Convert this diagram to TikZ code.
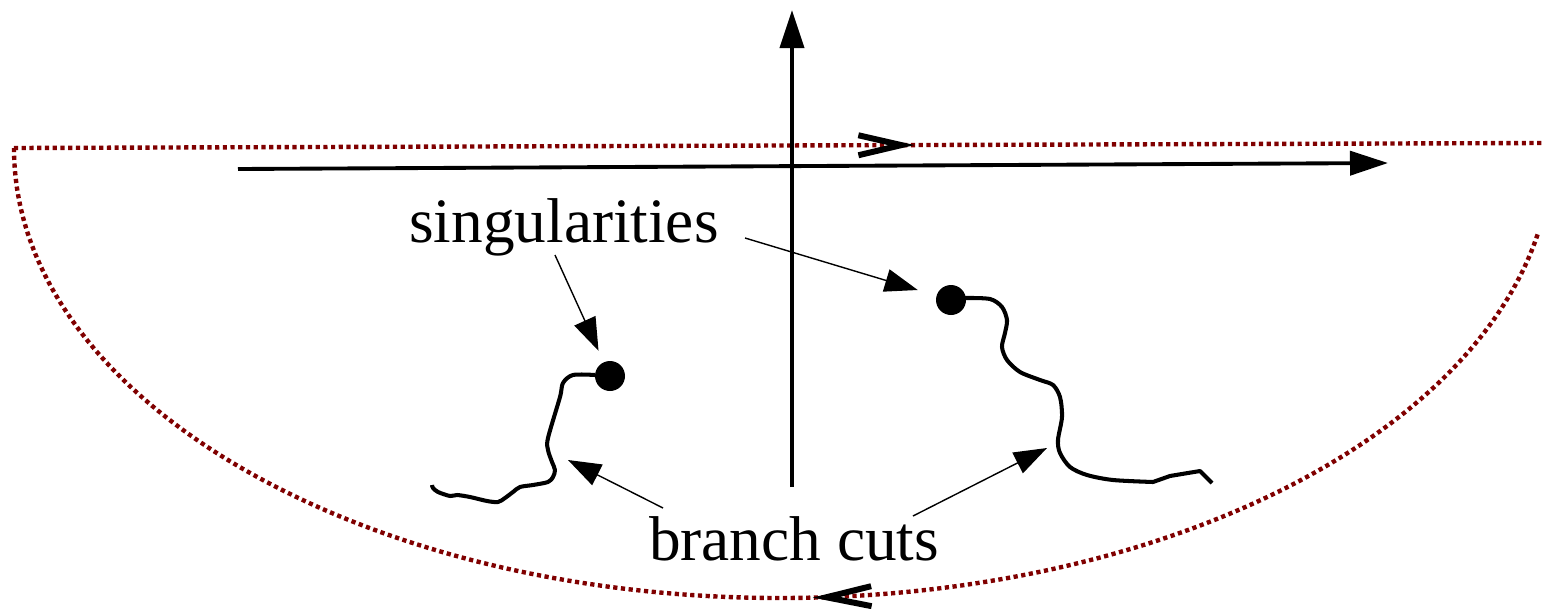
\documentclass[tikz,border=0pt]{standalone}
\usepackage{fontspec}
\setmainfont{Liberation Serif}
\usepackage{xcolor}
\usepackage{tikz}
\usetikzlibrary{arrows.meta,decorations.markings}
\definecolor{darkred}{HTML}{800000}

\begin{document}
\begin{tikzpicture}[>={Triangle[length=3.3mm,width=2.3mm]},
  axis/.style={line width=1.1pt,-{Triangle[length=3.8mm,width=2.4mm]}},
  contour/.style={darkred,line width=1.25pt,dash pattern=on 1.2pt off 1.0pt},
  cut/.style={line width=1.15pt,line join=round},
  pointer/.style={thin,->},
  dot/.style={circle,fill,inner sep=0pt,minimum size=3mm},
  label/.style={font=\fontsize{18}{21}\selectfont,inner sep=0pt,anchor=base}]
  \useasboundingbox (0,0) rectangle (15.43,6.08);

  % contour
  \draw[contour,postaction={decorate},
    decoration={markings,mark=at position 0.589 with
      {\arrow[black,solid]{Straight Barb[length=4.3mm,width=2.0mm,line width=1.7pt]}}}]
    (0.14,4.60) -- (15.43,4.65);
  \draw[contour,postaction={decorate},
    decoration={markings,mark=at position 10.04cm with
      {\arrowreversed[black,solid]{Straight Barb[length=4.5mm,width=2.0mm,line width=1.7pt]}}}]
    (0.14,4.60) arc[start angle=180,end angle=270,x radius=7.66,y radius=4.50]
    arc[start angle=270,end angle=349.1,x radius=7.72,y radius=4.50];

  % axes
  \draw[axis] (2.38,4.39) -- (13.88,4.45);
  \draw[axis] (7.92,1.21) -- (7.92,5.98);

  % singularities
  \node[dot] (sL) at (6.10,2.32) {};
  \node[dot] (sR) at (9.51,3.08) {};

  % branch cuts
  \draw[cut] plot[smooth] coordinates {(5.95,2.33) (5.73,2.33) (5.63,2.25)
    (5.60,2.11) (5.48,1.70) (5.48,1.58) (5.52,1.46) (5.55,1.38) (5.53,1.31)
    (5.48,1.26) (5.33,1.23) (5.20,1.21) (5.13,1.16) (5.05,1.10) (4.98,1.06)
    (4.87,1.07) (4.70,1.11) (4.57,1.13) (4.50,1.12) (4.38,1.16) (4.33,1.20)
    (4.32,1.23)};
  \draw[cut] plot[smooth] coordinates {(9.65,3.10) (9.90,3.09) (10.02,3.01)
    (10.07,2.88) (10.05,2.75) (10.02,2.61) (10.07,2.48) (10.20,2.36)
    (10.40,2.28) (10.53,2.23) (10.60,2.11) (10.62,1.91) (10.58,1.68)
    (10.60,1.55) (10.70,1.41) (10.87,1.33) (11.13,1.28) (11.53,1.26)}
    -- (11.70,1.32) -- (12.00,1.37) -- (12.12,1.25);

  % labels
  \node[label] (sing) at (5.64,3.66) {singularities};
  \node[label] (cuts) at (7.94,0.48) {branch cuts};

  \coordinate (singA) at (5.55,3.53);
  \coordinate (singB) at (7.45,3.70);
  \coordinate (cutsA) at (6.63,1.00);
  \coordinate (cutsB) at (9.13,0.92);
  \coordinate (cutL) at (5.68,1.48);
  \coordinate (cutR) at (10.47,1.60);

  \draw[pointer,shorten >=1.2mm] (singA) -- (sL);
  \draw[pointer,shorten >=1.9mm] (singB) -- (sR);
  \draw[pointer] (cutsA) -- (cutL);
  \draw[pointer] (cutsB) -- (cutR);
\end{tikzpicture}
\end{document}
